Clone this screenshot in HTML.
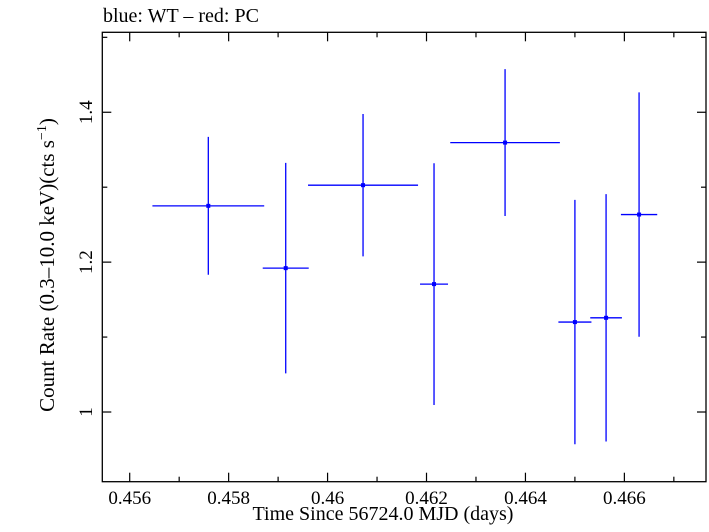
<!DOCTYPE html>
<html><head><meta charset="utf-8"><style>
html,body{margin:0;padding:0;background:#fff;}
svg{display:block;font-family:"Liberation Serif",serif;}
</style></head><body>
<svg id="chart" width="709" height="532" viewBox="0 0 709 532" xmlns="http://www.w3.org/2000/svg">
<text x="103" y="22" font-size="20" fill="#000">blue: WT – red: PC</text>
<rect x="102.3" y="32.3" width="603.7" height="449.4" fill="none" stroke="#000" stroke-width="1.3"/>
<g id="axes"></g>
<g id="series"></g>
<text x="383" y="520" font-size="20" text-anchor="middle" fill="#000">Time Since 56724.0 MJD (days)</text>
<text transform="translate(54,265) rotate(-90)" font-size="21" text-anchor="middle" fill="#000">Count Rate (0.3–10.0 keV)(cts s<tspan font-size="14" dy="-8">−1</tspan><tspan dy="8">)</tspan></text>
</svg>
<script>
const times = [0.457589, 0.459154, 0.460717, 0.462152, 0.463588, 0.465000, 0.465630, 0.466297];
const timeErr = [0.001130, 0.000465, 0.001112, 0.000283, 0.001108, 0.000334, 0.000320, 0.000367];
const rates = [1.2751, 1.192, 1.3027, 1.1707, 1.3595, 1.120, 1.1257, 1.2635];
const rateErr = [0.092, 0.1404, 0.095, 0.1613, 0.098, 0.163, 0.165, 0.163];
const xTicks = [0.456, 0.458, 0.460, 0.462, 0.464, 0.466];
const xTickLabels = ["0.456", "0.458", "0.46", "0.462", "0.464", "0.466"];
const yTicks = [1.0, 1.2, 1.4];
const yTickLabels = ["1", "1.2", "1.4"];

const L=102.3, R=706, T=32.3, B=481.7;
const xMin=0.455446, xMax=0.46765, yMin=0.907, yMax=1.5067;
const sx=v=>L+(v-xMin)/(xMax-xMin)*(R-L);
const sy=v=>B-(v-yMin)/(yMax-yMin)*(B-T);
const NS="http://www.w3.org/2000/svg";
function mk(tag,attrs,parent){const e=document.createElementNS(NS,tag);for(const k in attrs)e.setAttribute(k,attrs[k]);parent.appendChild(e);return e;}
const axes=document.getElementById('axes');
const series=document.getElementById('series');
for(let i=0;i<=12;i++){
  const v=0.456+i*0.001; if(v>xMax) break;
  const major=i%2===0; const len=major?9:5; const x=sx(v);
  const t1=mk('line',{x1:x,x2:x,y1:B,y2:B-len,stroke:'#000','stroke-width':1.2},axes);
  
  
  const t2=mk('line',{x1:x,x2:x,y1:T,y2:T+len,stroke:'#000','stroke-width':1.2},axes);
  
  
}
xTicks.forEach((v,i)=>{
  const t=mk('text',{x:sx(v),y:504,'font-size':19,'text-anchor':'middle',fill:'#000'},axes);
  t.textContent=xTickLabels[i];
  
  
});
for(let i=0;i<=6;i++){
  const v=0.9+i*0.1; if(v<yMin||v>yMax) continue;
  const major=Math.abs(v-1)<1e-9||Math.abs(v-1.2)<1e-9||Math.abs(v-1.4)<1e-9;
  const len=major?9:5; const y=sy(v);
  const t1=mk('line',{x1:L,x2:L+len,y1:y,y2:y,stroke:'#000','stroke-width':1.2},axes);
  
  
  const t2=mk('line',{x1:R,x2:R-len,y1:y,y2:y,stroke:'#000','stroke-width':1.2},axes);
  
  
}
yTicks.forEach((v,i)=>{
  const t=mk('text',{transform:`translate(92,${sy(v)}) rotate(-90)`,'font-size':19,'text-anchor':'middle',fill:'#000'},axes);
  t.textContent=yTickLabels[i];
  
  
});
times.forEach((v,i)=>{
  const g=mk('g',{},series);
  
  
  mk('line',{x1:sx(v-timeErr[i]),x2:sx(v+timeErr[i]),y1:sy(rates[i]),y2:sy(rates[i]),stroke:'#0000ff','stroke-width':1.3},g);
  mk('line',{x1:sx(v),x2:sx(v),y1:sy(rates[i]-rateErr[i]),y2:sy(rates[i]+rateErr[i]),stroke:'#0000ff','stroke-width':1.3},g);
  mk('rect',{x:sx(v)-2,y:sy(rates[i])-2,width:4,height:4,fill:'#0000ff'},g);
});
</script>
</body></html>
